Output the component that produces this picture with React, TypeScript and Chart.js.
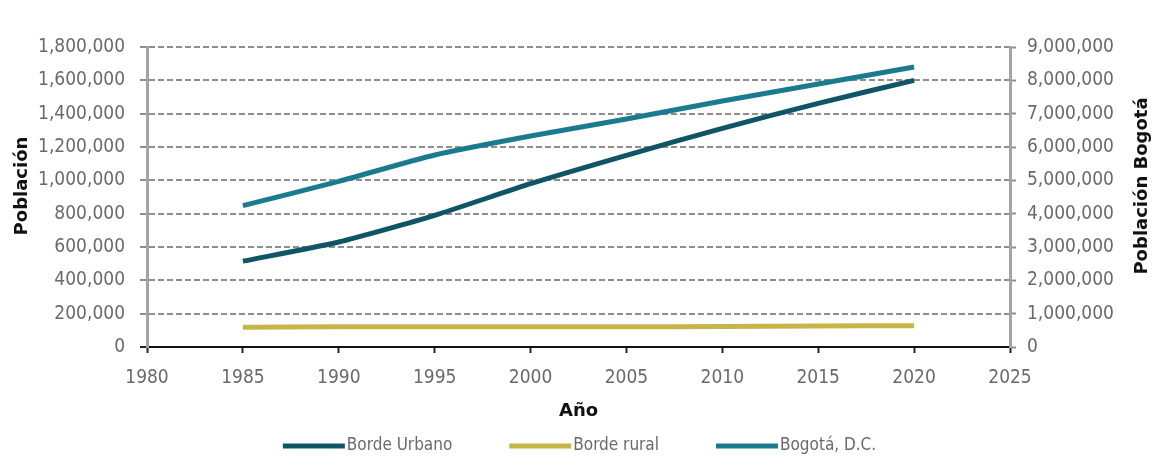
import React, { useEffect, useRef } from "react";
import { Chart, registerables } from "chart.js";

Chart.register(...registerables);

// Census years and population series
const years = [1985, 1990, 1995, 2000, 2005, 2010, 2015, 2020];
const bordeUrbano = [515000, 630000, 790000, 980000, 1150000, 1312000, 1462000, 1600000];
const bordeRural = [118000, 121000, 122000, 121000, 121000, 123000, 126000, 128000];
const bogota = [4240000, 4970000, 5760000, 6330000, 6840000, 7380000, 7890000, 8400000];

const seriesNames = ["Borde Urbano", "Borde rural", "Bogotá, D.C."];
const seriesColors = ["#0f5566", "#c6b648", "#1b7b8e"];

const leftTitle = "Población";
const rightTitle = "Población Bogotá";
const xTitle = "Año";

const tickFont = "'Liberation Sans Narrow', 'DejaVu Sans Condensed', 'Arial Narrow', sans-serif";
const titleFont = "'DejaVu Sans', sans-serif";

const fmt = (v: number) => Math.round(v).toLocaleString("en-US");

const pairs = (vals: number[]) => years.map((x, i) => ({ x, y: vals[i] }));

// Rotated axis titles for both value axes, read bottom-to-top
const axisTitles = {
  id: "axisTitles",
  afterDraw(chart: any) {
    const { ctx, chartArea } = chart;
    const cy = (chartArea.top + chartArea.bottom) / 2 - 11;
    ctx.save();
    ctx.font = `bold 18px ${titleFont}`;
    ctx.fillStyle = "#111";
    ctx.textAlign = "center";
    ctx.textBaseline = "middle";
    [
      [22, leftTitle],
      [chart.width - 11, rightTitle],
    ].forEach(([x, t]) => {
      ctx.save();
      ctx.translate(x as number, cy);
      ctx.rotate(-Math.PI / 2);
      ctx.fillText(t as string, 0, 0);
      ctx.restore();
    });
    ctx.restore();
  },
};

// Legend row with line swatches, centred under the chart
const lineLegend = {
  id: "lineLegend",
  afterDraw(chart: any) {
    const { ctx } = chart;
    const sw = 62;
    const gapText = 2;
    const gapItem = 57;
    const y = 446;
    ctx.save();
    ctx.font = `17px ${tickFont}`;
    ctx.textBaseline = "middle";
    const items = chart.data.datasets.map((d: any) => ({
      label: d.label,
      color: d.borderColor,
      w: sw + gapText + ctx.measureText(d.label).width,
    }));
    const total = items.reduce((s: number, it: any) => s + it.w, 0) + gapItem * (items.length - 1);
    let x = chart.width / 2 + 3 - total / 2;
    items.forEach((it: any) => {
      ctx.fillStyle = it.color;
      ctx.fillRect(x, y - 2.5, sw, 5);
      ctx.fillStyle = "#6a6a6a";
      ctx.textAlign = "left";
      ctx.fillText(it.label, x + sw + gapText, y);
      x += it.w + gapItem;
    });
    ctx.restore();
  },
};

export default function App() {
  const ref = useRef<HTMLCanvasElement | null>(null);

  useEffect(() => {
    if (!ref.current) return;
    const gridGrey = "#8e8e8e";
    const chart = new Chart(ref.current, {
      type: "line",
      data: {
        datasets: [
          { label: seriesNames[0], data: pairs(bordeUrbano), borderColor: seriesColors[0], backgroundColor: seriesColors[0], yAxisID: "y" },
          { label: seriesNames[1], data: pairs(bordeRural), borderColor: seriesColors[1], backgroundColor: seriesColors[1], yAxisID: "y" },
          { label: seriesNames[2], data: pairs(bogota), borderColor: seriesColors[2], backgroundColor: seriesColors[2], yAxisID: "y2" },
        ],
      },
      options: {
        animation: false,
        responsive: false,
        maintainAspectRatio: false,
        layout: { padding: { top: 47, left: 0, right: 0, bottom: 0 } },
        elements: {
          line: { borderWidth: 5, tension: 0.2, capBezierPoints: true },
          point: { radius: 0, hoverRadius: 0 },
        },
        plugins: { legend: { display: false }, tooltip: { enabled: false } },
        scales: {
          x: {
            type: "linear",
            min: 1980,
            max: 2025,
            afterFit: (s: any) => { s.height = 122; },
            ticks: {
              stepSize: 5,
              padding: 14,
              color: "#6a6a6a",
              font: { family: tickFont, size: 19 },
              callback: (v: any) => String(v),
              maxRotation: 0,
            },
            grid: { drawOnChartArea: false, drawTicks: true, tickLength: 6, tickColor: "#222", tickWidth: 2 },
            border: { color: "#111", width: 2 },
            title: { display: true, text: xTitle, color: "#111", font: { family: titleFont, size: 18, weight: "bold" }, padding: { top: 0, bottom: 47 } },
          },
          y: {
            position: "left",
            min: 0,
            max: 1800000,
            afterFit: (s: any) => { s.width = 147; },
            ticks: {
              stepSize: 200000,
              padding: 15,
              color: "#6a6a6a",
              font: { family: tickFont, size: 19 },
              callback: (v: any) => fmt(v),
            },
            grid: {
              color: (c: any) => (c.tick && c.tick.value === 0 ? "rgba(0,0,0,0)" : gridGrey),
              lineWidth: 2,
              tickLength: 7,
              tickColor: (c: any) => (c.tick && c.tick.value === 0 ? "#222" : gridGrey),
              tickWidth: 2,
            },
            border: { color: "#a4a4a4", width: 3, dash: [6, 3] },
          },
          y2: {
            position: "right",
            min: 0,
            max: 9000000,
            afterFit: (s: any) => { s.width = 143; },
            ticks: {
              stepSize: 1000000,
              padding: 11,
              color: "#6a6a6a",
              font: { family: tickFont, size: 19 },
              callback: (v: any) => fmt(v),
            },
            grid: { drawOnChartArea: false, tickLength: 6, tickColor: gridGrey, tickWidth: 2 },
            border: { color: "#a4a4a4", width: 3 },
          },
        },
      } as any,
      plugins: [axisTitles, lineLegend],
    });
    return () => chart.destroy();
  }, []);

  return (
    <div style={{ position: "absolute", left: 0, top: 0, width: 1153, height: 469, background: "#fff" }}>
      <canvas ref={ref} width={1153} height={469} style={{ width: 1153, height: 469, display: "block" }} />
    </div>
  );
}
